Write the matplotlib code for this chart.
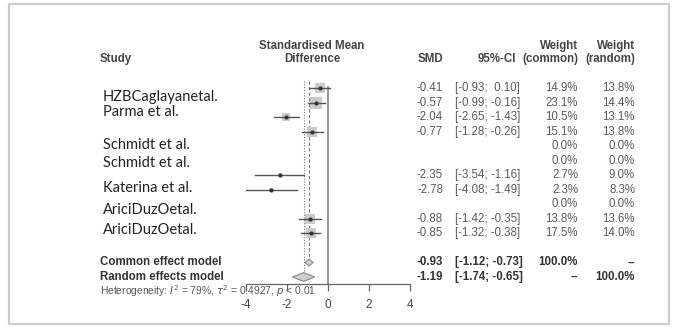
import numpy as np
import matplotlib.pyplot as plt
from matplotlib.patches import Rectangle, Polygon
from matplotlib.transforms import blended_transform_factory

plt.rcParams['font.family'] = ['Liberation Sans', 'DejaVu Sans']

# study rows (None = no estimate)
smd = [-0.41, -0.57, -2.04, -0.77, None, None, -2.35, -2.78, None, -0.88, -0.85]
lower = [-0.93, -0.99, -2.65, -1.28, None, None, -3.54, -4.08, None, -1.42, -1.32]
upper = [0.10, -0.16, -1.43, -0.26, None, None, -1.16, -1.49, None, -0.35, -0.38]
w_common = [14.9, 23.1, 10.5, 15.1, 0.0, 0.0, 2.7, 2.3, 0.0, 13.8, 17.5]
w_random = [13.8, 14.4, 13.1, 13.8, 0.0, 0.0, 9.0, 8.3, 0.0, 13.6, 14.0]

study_names = ["HZBCaglayanetal.", "Parma et al.", "Schmidt et al.", "Schmidt et al.",
               "Katerina et al.", "AriciDuzOetal.", "AriciDuzOetal."]
# overlay label rows (in row units)
name_rows = [1.62, 2.65, 4.92, 6.16, 7.88, 9.39, 10.77]

common = (-0.93, -1.12, -0.73)
random_eff = (-1.19, -1.74, -0.65)
xticks = [-4, -2, 0, 2, 4]

W, H = 676, 327
fig = plt.figure(figsize=(W / 100, H / 100), dpi=100)

# screenshot frame
fig.patches.append(Rectangle((9 / W, 3 / H), 660 / W, 320 / H, transform=fig.transFigure,
                             fill=False, edgecolor='#cccccc', lw=1.6))

ax = fig.add_axes([246 / W, 43 / H, 164 / W, 204 / H])
ax.set_xlim(-4, 4)
ax.set_ylim(14.48, 0.45)
for s in ['top', 'right', 'left']:
    ax.spines[s].set_visible(False)
ax.spines['bottom'].set_color('#666666')
ax.spines['bottom'].set_linewidth(0.9)
ax.set_yticks([])
ax.set_xticks(xticks, [str(t) for t in xticks])
ax.tick_params(axis='x', colors='#666666', labelcolor='#444444', labelsize=8.5,
               length=5, width=0.9, pad=6)

row_c, row_r = 13, 14
ax.plot([0, 0], [0.95, 14.48], color='#777777', lw=1.1, clip_on=False)
ax.plot([common[0]] * 2, [0.5, row_c - 0.3], color='#777777', lw=0.8, ls=(0, (3, 2)))
ax.plot([random_eff[0]] * 2, [0.5, row_r - 0.3], color='#777777', lw=0.8, ls=(0, (1, 1.5)))

for i in range(len(smd)):
    r = i + 1
    if smd[i] is None:
        continue
    side = 8.6 * np.sqrt(w_common[i] / 23.1)
    ax.scatter([smd[i]], [r], marker='s', s=side ** 2, color='#cacaca', lw=0, zorder=2)
    ax.plot([lower[i], upper[i]], [r, r], color='#555555', lw=1.0, zorder=3)
    ax.plot([smd[i]], [r], 'o', color='#333333', ms=2.0, zorder=4)

for (est, lo, hi), r, h in [(common, row_c, 0.25), (random_eff, row_r, 0.3)]:
    ax.add_patch(Polygon([[lo, r], [est, r - h], [hi, r], [est, r + h]], closed=True,
                         facecolor='#d0d0d0', edgecolor='#888888', lw=0.8, zorder=3))

bt = blended_transform_factory(fig.transFigure, ax.transData)
X = lambda px: px / W

hdr = dict(fontsize=8.3, fontweight='bold', color='#444444', transform=bt, va='center',
           clip_on=False)
ax.text(X(100), -1.0, "Study", ha='left', **hdr)
ax.text(X(312), -1.9, "Standardised Mean", ha='center', **hdr)
ax.text(X(312), -1.0, "Difference", ha='center', **hdr)
ax.text(X(443), -1.0, "SMD", ha='right', **hdr)
ax.text(X(516), -1.0, "95%-CI", ha='right', **hdr)
ax.text(X(578), -1.9, "Weight", ha='right', **hdr)
ax.text(X(578), -1.0, "(common)", ha='right', **hdr)
ax.text(X(635), -1.9, "Weight", ha='right', **hdr)
ax.text(X(635), -1.0, "(random)", ha='right', **hdr)

dat = dict(fontsize=8.3, color='#5a5a5a', transform=bt, va='center', clip_on=False)
for i in range(len(smd)):
    r = i + 1
    if smd[i] is not None:
        ax.text(X(443), r, f"{smd[i]:.2f}", ha='right', **dat)
        ax.text(X(455), r, f"[{lower[i]:.2f}; {upper[i]:5.2f}]", ha='left', **dat)
    ax.text(X(578), r, f"{w_common[i]:.1f}%", ha='right', **dat)
    ax.text(X(635), r, f"{w_random[i]:.1f}%", ha='right', **dat)

bold = dict(dat, fontweight='bold', color='#333333')
ax.text(X(100), row_c, "Common effect model", ha='left', **bold)
ax.text(X(100), row_r, "Random effects model", ha='left', **bold)
for (est, lo, hi), r, wc, wr in [(common, row_c, "100.0%", "--"),
                                 (random_eff, row_r, "--", "100.0%")]:
    ax.text(X(443), r, f"{est:.2f}", ha='right', **bold)
    ax.text(X(455), r, f"[{lo:.2f}; {hi:.2f}]", ha='left', **bold)
    ax.text(X(578), r, wc, ha='right', **bold)
    ax.text(X(635), r, wr, ha='right', **bold)

ax.text(X(100), 14.95, r"Heterogeneity: $I^2$ = 79%, $\tau^2$ = 0.4927, $p$ < 0.01",
        ha='left', fontsize=7.4, color='#555555', transform=bt, va='center', clip_on=False)

for name, r in zip(study_names, name_rows):
    ax.text(X(103), r, name, ha='left', va='center', fontsize=10.5, color='#222222',
            family=['Lato', 'DejaVu Sans'], transform=bt, clip_on=False)

fig.savefig('out.png', dpi=100, facecolor='white')
